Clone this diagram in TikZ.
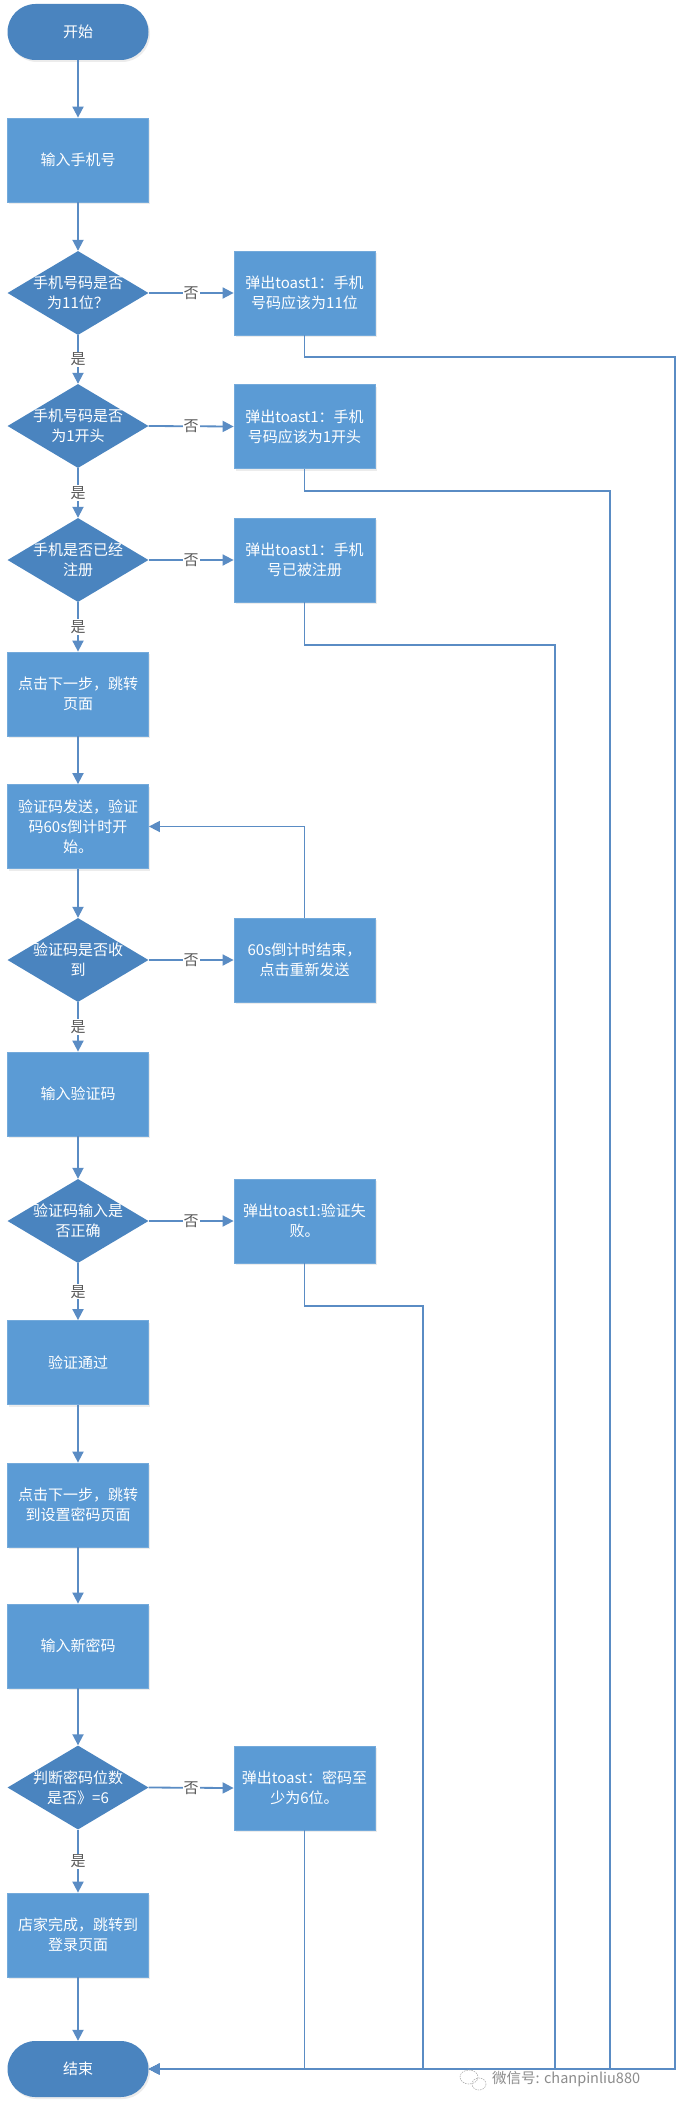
\documentclass[tikz,border=0pt]{standalone}
\usepackage{fontspec}
\setmainfont{Noto Sans CJK SC}
\usetikzlibrary{shapes.geometric,arrows.meta,shadows}
\definecolor{boxblue}{HTML}{5B9BD5}
\definecolor{darkblue}{HTML}{4A84BF}
\definecolor{lineblue}{HTML}{5A8CC4}
\definecolor{lblgray}{HTML}{595959}
\definecolor{wmgray}{HTML}{8C8C8C}
\begin{document}
\begin{tikzpicture}[x=1pt,y=-1pt,
  base/.style={inner sep=0pt, text=white, font=\fontsize{15}{20}\selectfont, align=center},
  procbox/.style={base, rectangle, fill=boxblue, draw=boxblue!85!white, line width=0.8pt,
    minimum width=141pt, minimum height=84pt,
    drop shadow={shadow xshift=1.5pt, shadow yshift=-2pt, opacity=0.15}},
  termbox/.style={base, rectangle, rounded corners=28pt, fill=darkblue, minimum width=141pt, minimum height=56pt,
    drop shadow={shadow xshift=1.5pt, shadow yshift=-2pt, opacity=0.15}},
  decbox/.style={diamond, fill=darkblue, inner sep=0pt, minimum width=141pt, minimum height=84pt},
  dectext/.style={base},
  conn/.style={draw=lineblue, line width=1.8pt, -{Triangle[width=11pt,length=11pt]}},
  ret/.style={draw=lineblue, line width=1.3pt},
  retarrow/.style={ret, -{Triangle[width=11pt,length=11pt]}},
  lbl/.style={fill=white, text=lblgray, inner sep=1pt, font=\fontsize{15}{18}\selectfont}
]
\fill[white] (0,0) rectangle (677,2109);
\useasboundingbox (0,0) rectangle (677,2109);

% main column
\node[termbox] (start) at (78,32) {开始};
\node[procbox] (in1) at (78,160) {输入手机号};
\node[decbox] (d1) at (78,293) {};
\node[dectext] (d1t) at (d1) {手机号码是否\\为11位？};
\node[procbox] (t1) at (304.5,293) {弹出toast1：手机\\号码应该为11位};
\node[decbox] (d2) at (78,426) {};
\node[dectext] (d2t) at (d2) {手机号码是否\\为1开头};
\node[procbox] (t2) at (304.5,426.5) {弹出toast1：手机\\号码应该为1开头};
\node[decbox] (d3) at (78,560) {};
\node[dectext] (d3t) at (d3) {手机是否已经\\注册};
\node[procbox] (t3) at (304.5,560) {弹出toast1：手机\\号已被注册};
\node[procbox] (b1) at (78,694) {点击下一步，跳转\\页面};
\node[procbox] (b2) at (78,826.5) {验证码发送，验证\\码60s倒计时开\\始。};
\node[decbox] (d4) at (78,960) {};
\node[dectext] (d4t) at (d4) {验证码是否收\\到};
\node[procbox] (t4) at (304.5,960) {60s倒计时结束，\\点击重新发送};
\node[procbox] (b3) at (78,1094) {输入验证码};
\node[decbox] (d5) at (78,1221) {};
\node[dectext] (d5t) at (d5) {验证码输入是\\否正确};
\node[procbox] (t5) at (304.5,1221) {弹出toast1:验证失\\败。};
\node[procbox] (b4) at (78,1362.5) {验证通过};
\node[procbox] (b5) at (78,1505) {点击下一步，跳转\\到设置密码页面};
\node[procbox] (b6) at (78,1646) {输入新密码};
\node[decbox] (d6) at (78,1787.5) {};
\node[dectext] (d6t) at (d6) {判断密码位数\\是否》=6};
\node[procbox] (t6) at (304.5,1788) {弹出toast：密码至\\少为6位。};
\node[procbox] (b7) at (78,1935) {店家完成，跳转到\\登录页面};
\node[termbox] (stop) at (78,2069) {结束};

% return-line corners
\coordinate (r1) at (675,357);
\coordinate (r2) at (610,491);
\coordinate (r3) at (555,645);
\coordinate (r5) at (423,1306);

% main connectors
\draw[conn] (start) -- (in1);
\draw[conn] (in1) -- (d1.north);
\draw[conn] (d1.south) -- node[lbl] {是} (d2.north);
\draw[conn] (d2.south) -- node[lbl] {是} (d3.north);
\draw[conn] (d3.south) -- node[lbl] {是} (b1.north);
\draw[conn] (b1) -- (b2);
\draw[conn] (b2) -- (d4.north);
\draw[conn] (d4.south) -- node[lbl] {是} (b3.north);
\draw[conn] (b3) -- (d5.north);
\draw[conn] (d5.south) -- node[lbl] {是} (b4.north);
\draw[conn] (b4) -- (b5);
\draw[conn] (b5) -- (b6);
\draw[conn] (b6) -- (d6.north);
\draw[conn] (d6.south) -- node[lbl] {是} (b7.north);
\draw[conn] (b7) -- (stop);

% no branches
\draw[conn] (d1.east) -- node[lbl] {否} (t1.west);
\draw[conn] (d2.east) -- node[lbl] {否} (t2.west);
\draw[conn] (d3.east) -- node[lbl] {否} (t3.west);
\draw[conn] (d4.east) -- node[lbl] {否} (t4.west);
\draw[conn] (d5.east) -- node[lbl] {否} (t5.west);
\draw[conn] (d6.east) -- node[lbl] {否} (t6.west);

% loop back
\draw[retarrow, line width=1.6pt] (t4.north) |- (b2.east);

% returns to end
\draw[retarrow] (t1.south) |- (r1) |- (stop.east);
\draw[retarrow] (t2.south) |- (r2) |- (stop.east);
\draw[retarrow] (t3.south) |- (r3) |- (stop.east);
\draw[retarrow] (t5.south) |- (r5) |- (stop.east);
\draw[retarrow] (t6.south) |- (stop.east);

% watermark
\draw[wmgray!70, line width=0.6pt, dash pattern=on 1.5pt off 1pt] (469,2077) ellipse [x radius=9, y radius=7];
\draw[wmgray!70, line width=0.6pt, dash pattern=on 1.5pt off 1pt] (479,2084) ellipse [x radius=7, y radius=6];
\node[text=wmgray, font=\fontsize{14.5}{16}\selectfont, inner sep=0pt, anchor=west] (wm) at (492,2079) {微信号: chanpinliu880};
\end{tikzpicture}
\end{document}
